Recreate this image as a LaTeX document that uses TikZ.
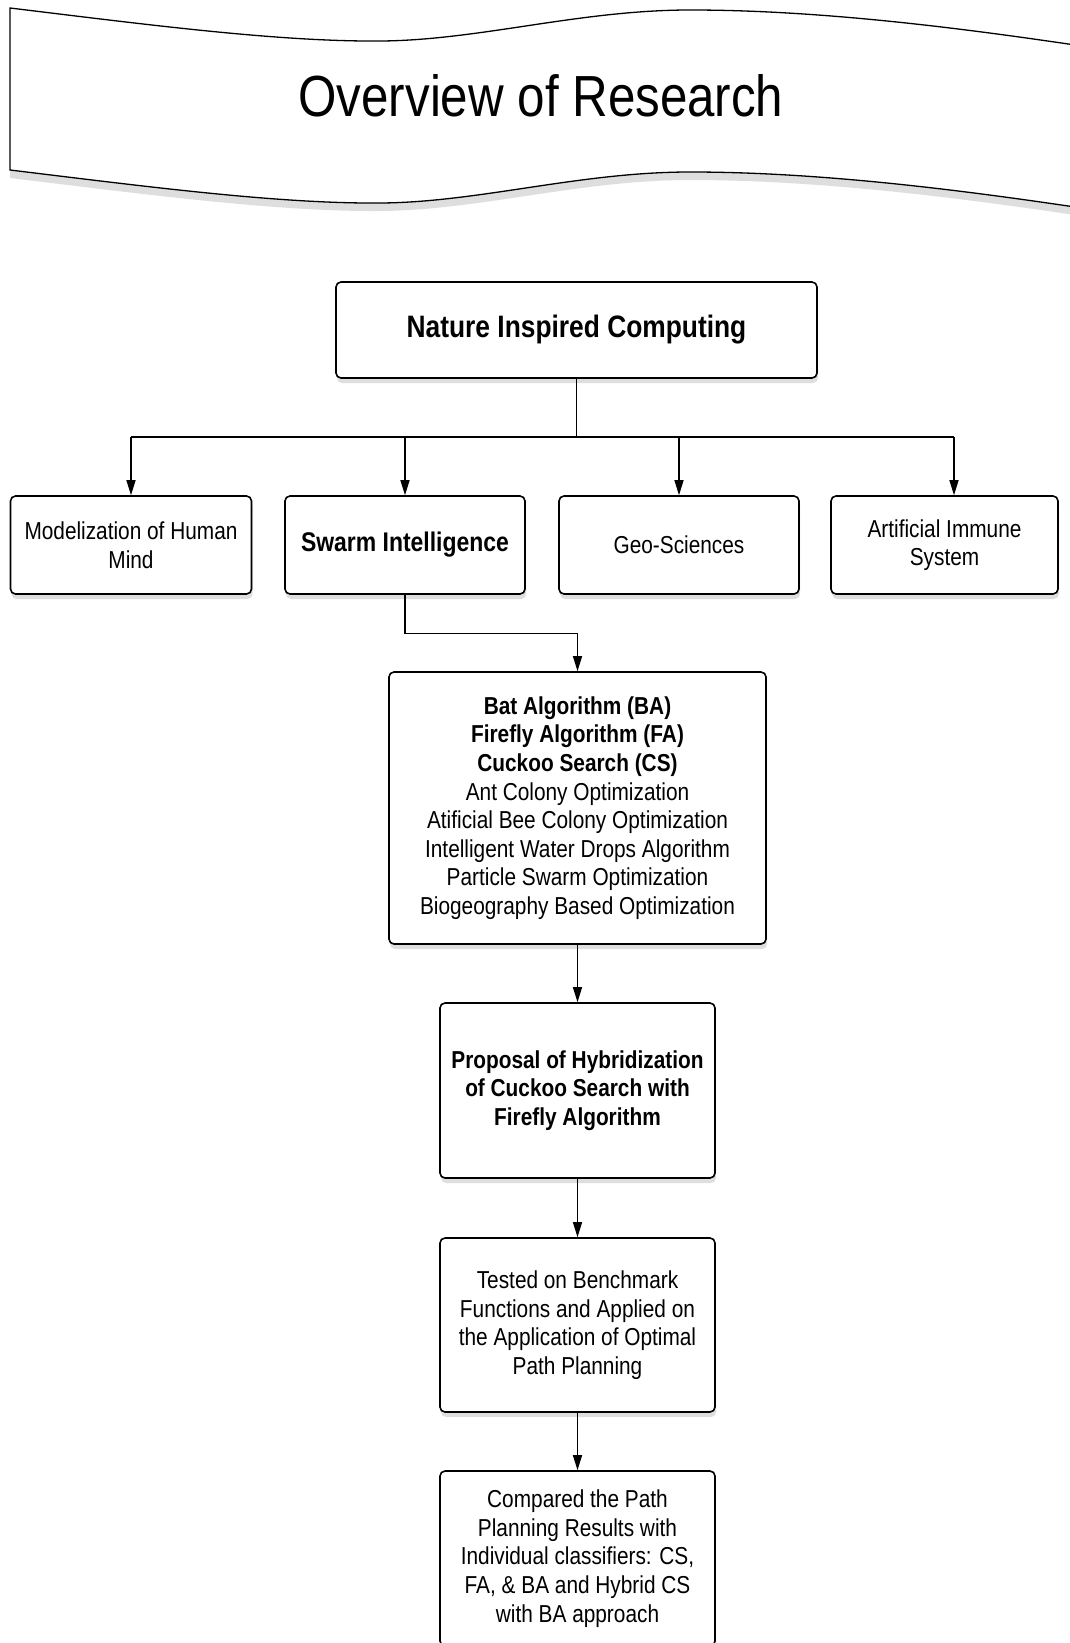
\documentclass[tikz,border=0pt]{standalone}
\usepackage{fontspec}
\setmainfont[FakeStretch=0.85]{Liberation Sans}
\usepackage{tikz}
\usetikzlibrary{shapes, arrows, positioning, shadows, calc, arrows.meta}

\begin{document}
\begin{tikzpicture}[
        x=1pt, y=-1pt,
        every node/.style={align=center, font=\fontsize{24.5}{28.6}\selectfont},
        box/.style={draw, line width=1.6pt, rounded corners=5pt, fill=white,
            drop shadow={shadow xshift=1pt, shadow yshift=-5pt, fill=black!25, opacity=0.5}},
        link/.style={line width=1.3pt},
        arr/.style={link, -{Triangle[length=15pt, width=9pt]}}
    ]
        \clip (0,0) rectangle (1070,1643);
        \fill[white] (0,0) rectangle (1070,1643);

        % banner
        \filldraw[fill=white, line width=1.3pt, drop shadow={shadow xshift=0pt, shadow yshift=-8pt, fill=black!25, opacity=0.5}]
            (10,8) .. controls (150,25) and (280,42) .. (382,41)
            .. controls (480,40) and (580,10) .. (690,10)
            .. controls (820,10) and (960,28) .. (1075,45)
            -- (1075,207)
            .. controls (960,190) and (820,172) .. (690,172)
            .. controls (580,172) and (480,202) .. (382,203)
            .. controls (280,204) and (150,187) .. (10,170) -- cycle;
        \node[font=\fontsize{58}{64}\selectfont] (title) at (541,96) {Overview of Research};

        \node[box, minimum width=481pt, minimum height=96pt, font=\fontsize{31}{35}\selectfont\bfseries] (nic) at (576.5,330) {Nature Inspired Computing};

        \node[box, minimum width=241pt, minimum height=98pt] (mind) at (131,545) {Modelization of Human\\Mind};
        \node[box, minimum width=240pt, minimum height=98pt, font=\fontsize{27}{31}\selectfont\bfseries] (swarm) at (405,545) {Swarm Intelligence};
        \node[box, minimum width=240pt, minimum height=98pt] (geo) at (679,545) {Geo-Sciences};
        \node[box, minimum width=227pt, minimum height=98pt] (immune) at (944.5,545) {Artificial Immune\\System};

        \node[box, minimum width=377pt, minimum height=272pt] (algo) at (577.5,808) {\textbf{Bat Algorithm (BA)}\\\textbf{Firefly Algorithm (FA)}\\\textbf{Cuckoo Search (CS)}\\Ant Colony Optimization\\Atificial Bee Colony Optimization\\Intelligent Water Drops Algorithm\\Particle Swarm Optimization\\Biogeography Based Optimization};

        \node[box, minimum width=275pt, minimum height=175pt, font=\fontsize{24.5}{28.6}\selectfont\bfseries] (hybrid) at (577.5,1090.5) {Proposal of Hybridization\\of Cuckoo Search with\\Firefly Algorithm};
        \node[box, minimum width=275pt, minimum height=174pt] (tested) at (577.5,1325) {Tested on Benchmark\\Functions and Applied on\\the Application of Optimal\\Path Planning};
        \node[box, minimum width=275pt, minimum height=175pt] (compared) at (577.5,1558.5) {Compared the Path\\Planning Results with\\Individual classifiers: CS,\\FA, \& BA and Hybrid CS\\with BA approach};

        % connectors
        \coordinate (bus) at (0,437);
        \coordinate (immtop) at ($(immune.north)+(9.5,0)$);
        \draw[link] (nic.south) -- (nic.south |- bus);
        \draw[link] (mind.north |- bus) -- (immtop |- bus);
        \draw[arr] (mind.north |- bus) -- (mind.north);
        \draw[arr] (swarm.north |- bus) -- (swarm.north);
        \draw[arr] (geo.north |- bus) -- (geo.north);
        \draw[arr] (immtop |- bus) -- (immtop);

        \draw[arr] (swarm.south) -- ++(0,39) -| (algo.north);
        \draw[arr] (algo.south) -- (hybrid.north);
        \draw[arr] (hybrid.south) -- (tested.north);
        \draw[arr] (tested.south) -- (compared.north);
    \end{tikzpicture}
\end{document}
